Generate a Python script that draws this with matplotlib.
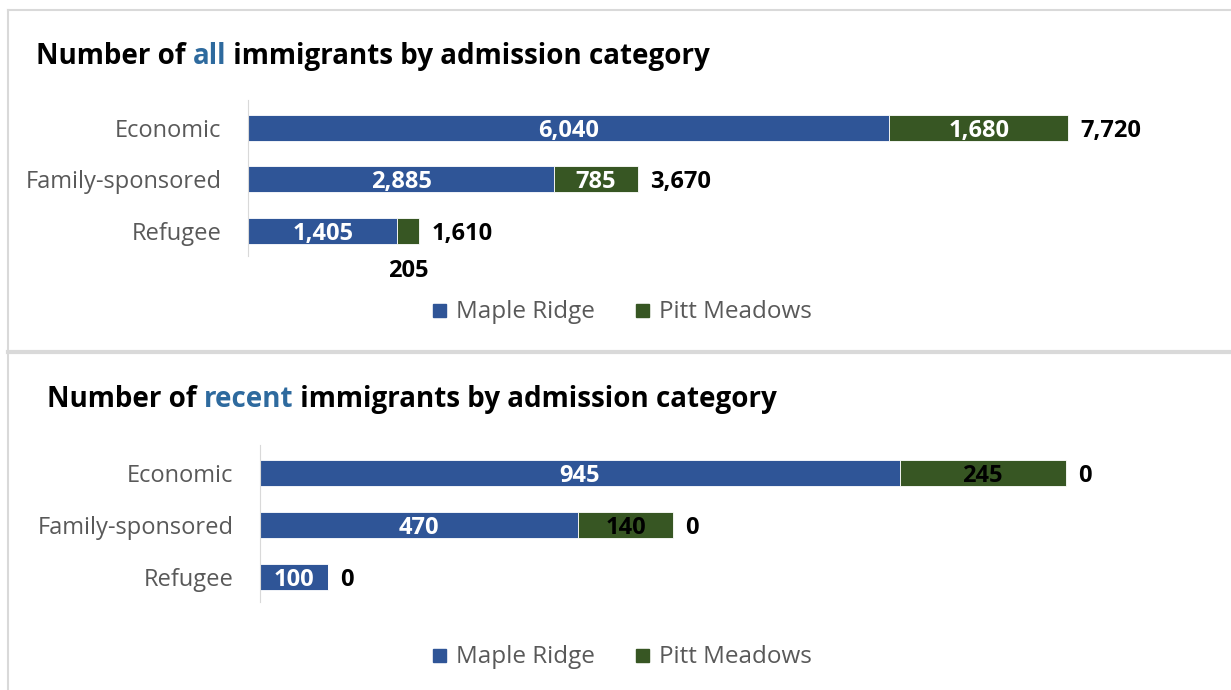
import matplotlib
matplotlib.use("Agg")
import matplotlib.pyplot as plt
from matplotlib.patches import Rectangle
from matplotlib.lines import Line2D

plt.rcParams['font.family'] = ['Open Sans', 'DejaVu Sans']

categories = ['Economic', 'Family-sponsored', 'Refugee']
series_names = ['Maple Ridge', 'Pitt Meadows']

all_maple = [6040, 2885, 1405]
all_pitt = [1680, 785, 205]
all_total = [7720, 3670, 1610]

recent_maple = [945, 470, 100]
recent_pitt = [245, 140, 0]
recent_total = [0, 0, 0]   # total labels as published

BLUE = '#2F5597'
GREEN = '#375623'
GRAY = '#595959'
COLORS = [BLUE, GREEN]

W, H = 1231, 690
fig = plt.figure(figsize=(W / 100, H / 100), dpi=100)
fig.canvas.draw()
renderer = fig.canvas.get_renderer()


def px_axes(left, top, right, bottom):
    return fig.add_axes([left / W, 1 - bottom / H, (right - left) / W, (bottom - top) / H])


def title_parts(x, y, parts, size=20):
    # draw a title made of differently coloured pieces, side by side
    xf = x / W
    for s, c in parts:
        t = fig.text(xf, 1 - y / H, s, color=c, fontsize=size, fontweight='bold',
                     va='baseline', ha='left')
        bb = t.get_window_extent(renderer=renderer)
        xf += bb.width / W


def legend_row(baseline, xs=(433, 636), size=17.5):
    # square swatch + label on a shared baseline
    for name, c, x in zip(series_names, COLORS, xs):
        fig.add_artist(Rectangle((x / W, 1 - (baseline - 1) / H), 13 / W, 13 / H,
                                 transform=fig.transFigure, color=c))
        fig.text((x + 23) / W, 1 - baseline / H, name, color=GRAY, fontsize=size,
                 va='baseline', ha='left')


def fmt(v):
    return f'{v:,}'


def draw_panel(ax, maple, pitt, total, xmax, pitt_label_color, small_pitt_below):
    ypos = list(range(len(categories)))
    ax.barh(ypos, maple, height=0.5, color=BLUE, edgecolor='white', linewidth=0.6)
    ax.barh(ypos, pitt, left=maple, height=0.5, color=GREEN, edgecolor='white', linewidth=0.6)
    ax.set_xlim(0, xmax)
    ax.set_ylim(2.49, -0.54)
    ax.set_yticks(ypos)
    ax.set_yticklabels(categories, fontsize=17, color=GRAY)
    ax.tick_params(axis='y', length=0, pad=19)
    ax.set_xticks([])
    for sp in ['top', 'right', 'bottom']:
        ax.spines[sp].set_visible(False)
    ax.spines['left'].set_color('#D9D9D9')
    ax.patch.set_alpha(0)

    lab = dict(fontsize=17, fontweight='bold', va='center_baseline')
    for i, (m, p, t) in enumerate(zip(maple, pitt, total)):
        ax.text(m / 2, i, fmt(m), ha='center', color='white', **lab)
        if p > 0:
            if small_pitt_below and p < 0.08 * xmax:
                ax.text(m + p / 2, i + 0.72, fmt(p), ha='center', color='black', **lab)
            else:
                ax.text(m + p / 2, i, fmt(p), ha='center', color=pitt_label_color, **lab)
        ax.annotate(fmt(t), xy=(m + p, i), xytext=(9, 0), textcoords='offset points',
                    ha='left', color='black', **lab)


# panel frames
fig.add_artist(Line2D([8 / W, 1], [1 - 10 / H] * 2, color='#D9D9D9', lw=1.5))
fig.add_artist(Line2D([8 / W, 8 / W], [0, 1 - 10 / H], color='#D9D9D9', lw=1.5))
fig.add_artist(Line2D([8 / W, 1], [1 - 352 / H] * 2, color='#D9D9D9', lw=3))

# top chart: all immigrants
ax1 = px_axes(248, 100, 1200, 256)
draw_panel(ax1, all_maple, all_pitt, all_total, (1200 - 248) / 0.1062, 'white', True)
title_parts(36, 64, [('Number of ', 'black'), ('all', '#2E6A9E'),
                     (' immigrants by admission category', 'black')])
legend_row(318)

# bottom chart: recent immigrants
ax2 = px_axes(260, 445, 1200, 602)
draw_panel(ax2, recent_maple, recent_pitt, recent_total, (1200 - 260) / 0.677, 'black', False)
title_parts(47, 407, [('Number of ', 'black'), ('recent', '#2E6A9E'),
                      (' immigrants by admission category', 'black')])
legend_row(663)

fig.savefig('out.png', dpi=100, facecolor='white')
